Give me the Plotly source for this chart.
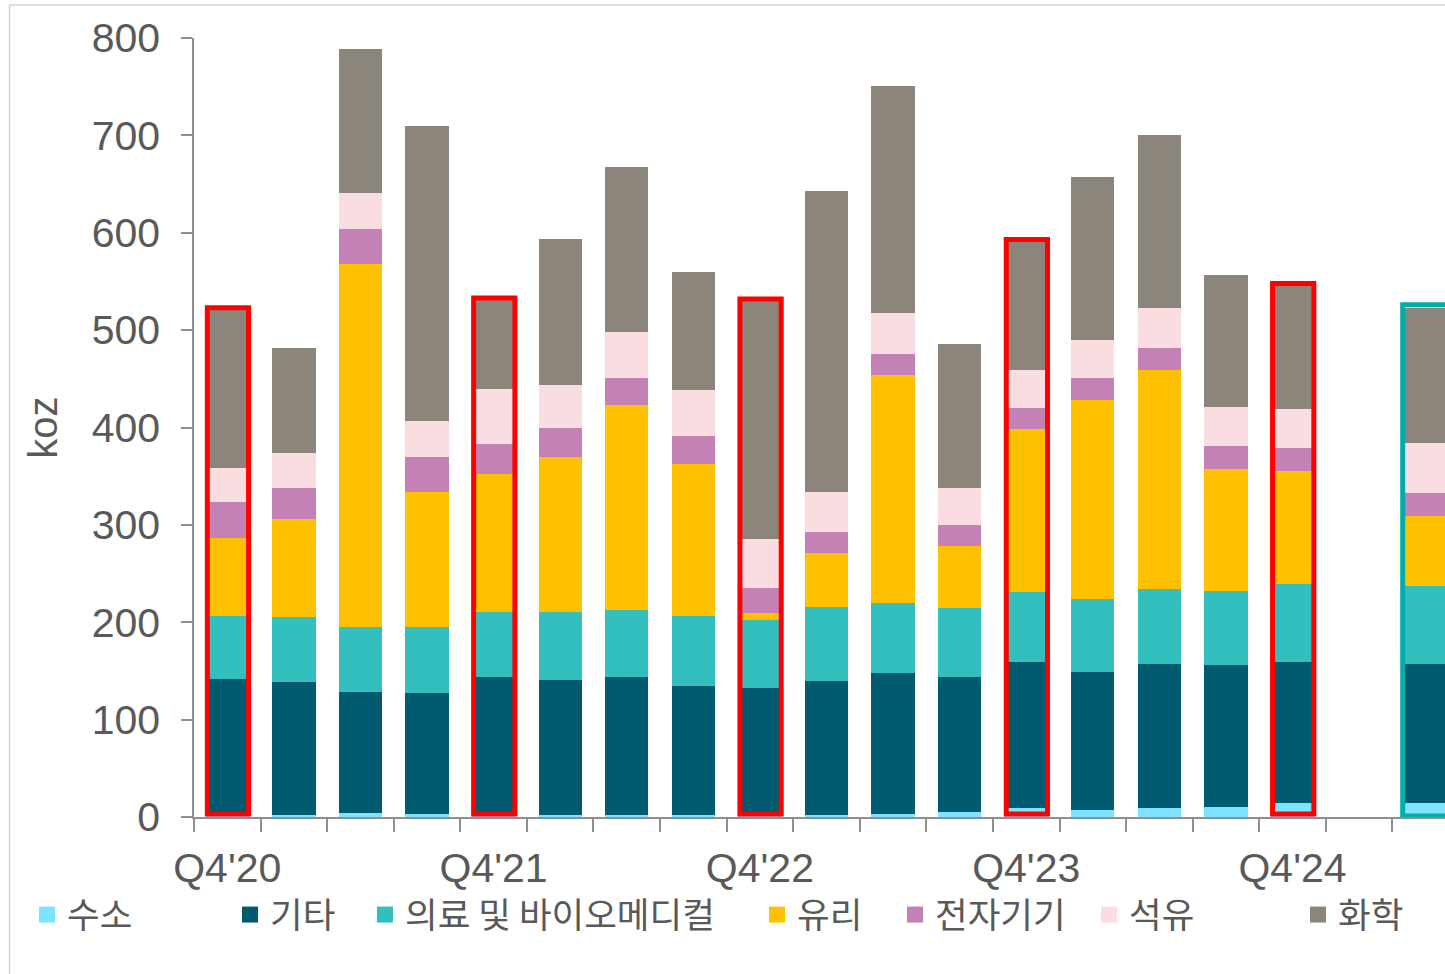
import plotly.graph_objects as go

# ---------------- data ----------------
quarters = ["Q4'20", "Q1'21", "Q2'21", "Q3'21", "Q4'21", "Q1'22", "Q2'22", "Q3'22",
            "Q4'22", "Q1'23", "Q2'23", "Q3'23", "Q4'23", "Q1'24", "Q2'24", "Q3'24", "Q4'24"]
# 17 quarterly bars, one empty slot, then one extra (unlabelled) highlighted bar
slot_index = list(range(17)) + [18]

tick_positions = [0, 4, 8, 12, 16]
tick_labels = ["Q4'20", "Q4'21", "Q4'22", "Q4'23", "Q4'24"]

hydrogen =   [5, 2, 4, 3, 4, 2, 2, 2, 2, 2, 3, 5, 9, 7, 9, 10, 14, 14]
other =      [137, 137, 124, 124, 140, 139, 142, 133, 130, 138, 145, 139, 150, 142, 148, 146, 145, 143]
medical =    [64, 66, 67, 68, 67, 70, 69, 71, 70, 76, 72, 71, 72, 75, 77, 76, 80, 80]
glass =      [81, 101, 373, 139, 141, 159, 210, 157, 8, 55, 234, 63, 167, 204, 225, 125, 116, 72]
electrical = [36, 32, 36, 36, 31, 29, 28, 28, 25, 22, 22, 22, 22, 23, 23, 24, 24, 24]
petroleum =  [35, 36, 37, 37, 57, 45, 47, 48, 51, 41, 42, 38, 39, 39, 41, 40, 40, 51]
chemical =   [164, 108, 148, 303, 92, 150, 170, 121, 245, 309, 233, 148, 133, 167, 177, 136, 128, 139]

series_names = ["수소", "기타", "의료 및 바이오메디컬", "유리", "전자기기", "석유", "화학"]
series_values = [hydrogen, other, medical, glass, electrical, petroleum, chemical]
series_colors = ["#7FE3FF", "#005A70", "#33BFBD", "#FFC000", "#C381B5", "#F9DDE0", "#8C857B"]

red_box_slots = [0, 4, 8, 12, 16]
teal_box_slot = 18

# ---------------- figure ----------------
GRAY_TXT = "#595959"
AXIS_GRAY = "#8f8f8f"
LATIN = "Liberation Sans, Arial, sans-serif"
KOREAN = "Noto Sans CJK KR, sans-serif"

fig = go.Figure()
for name, vals, col in zip(series_names, series_values, series_colors):
    fig.add_trace(go.Bar(x=slot_index, y=vals, name=name, marker=dict(color=col, line=dict(width=0)),
                         width=0.65, showlegend=False,
                         hovertext=quarters + ["", ""], hoverinfo="text+y+name"))

# legend entries (one small legend per entry so each sits where the original has it)
legend_left_px = [27, 230, 365, 757, 895, 1089, 1298]
PLOT_L, PLOT_W = 194, 1251
PLOT_T, PLOT_H = 38, 779
legend_center_y = (PLOT_T + PLOT_H - 915) / PLOT_H
for i, (name, col) in enumerate(zip(series_names, series_colors)):
    key = "legend" if i == 0 else f"legend{i+1}"
    fig.add_trace(go.Scatter(x=[None], y=[None], mode="markers", name=name,
                             marker=dict(symbol="square", size=17, color=col),
                             legend=key, showlegend=True, hoverinfo="skip"))
    fig.update_layout({key: dict(x=(legend_left_px[i] - PLOT_L) / PLOT_W, y=legend_center_y,
                                 xanchor="left", yanchor="middle", orientation="h",
                                 bgcolor="rgba(0,0,0,0)", borderwidth=0,
                                 font=dict(family=KOREAN, size=35.5, color=GRAY_TXT),
                                 itemsizing="trace", itemclick=False, itemdoubleclick=False)})

totals = [sum(v[k] for v in series_values) for k in range(len(slot_index))]
shapes = []
for s in red_box_slots:
    k = slot_index.index(s)
    shapes.append(dict(type="rect", xref="x", yref="y", x0=s - 0.30, x1=s + 0.32,
                       y0=3, y1=totals[k] + 1, line=dict(color="#FF0000", width=5),
                       fillcolor="rgba(0,0,0,0)", layer="above"))
k = slot_index.index(teal_box_slot)
shapes.append(dict(type="rect", xref="x", yref="y", x0=teal_box_slot - 0.345, x1=teal_box_slot + 0.35,
                   y0=1, y1=totals[k] + 3, line=dict(color="#00ADA8", width=5),
                   fillcolor="rgba(0,0,0,0)", layer="above"))
# faint outer frame of the original picture
fx = (9.5 - PLOT_L) / PLOT_W
fy = (PLOT_T + PLOT_H - 5) / PLOT_H
shapes.append(dict(type="line", xref="paper", yref="paper", x0=fx, x1=1.0, y0=fy, y1=fy,
                   line=dict(color="#d4d4d4", width=1.5)))
shapes.append(dict(type="line", xref="paper", yref="paper", x0=fx, x1=fx, y0=fy, y1=-0.3,
                   line=dict(color="#d4d4d4", width=1.5)))

fig.update_layout(
    barmode="stack",
    width=1445, height=974,
    margin=dict(l=PLOT_L, r=0, t=PLOT_T, b=974 - PLOT_T - PLOT_H, autoexpand=False),
    paper_bgcolor="white", plot_bgcolor="white",
    font=dict(family=LATIN, color=GRAY_TXT),
    shapes=shapes,
    xaxis=dict(range=[-0.5, 18.29], tickmode="array", tickvals=tick_positions, ticktext=tick_labels,
               ticks="", showgrid=False, zeroline=False, showline=True, linecolor=AXIS_GRAY, linewidth=1.5,
               tickfont=dict(family=LATIN, size=41, color=GRAY_TXT), ticklabelstandoff=14,
               minor=dict(ticks="outside", tickmode="linear", tick0=-0.5, dtick=1, ticklen=13,
                          tickwidth=1.5, tickcolor=AXIS_GRAY, showgrid=False)),
    yaxis=dict(range=[0, 800], tickmode="linear", tick0=0, dtick=100, ticks="outside", ticklen=11,
               tickwidth=1.5, tickcolor=AXIS_GRAY, showgrid=False, zeroline=False, showline=True,
               linecolor=AXIS_GRAY, linewidth=1.5, ticklabelstandoff=13,
               tickfont=dict(family=LATIN, size=41, color=GRAY_TXT),
               title=dict(text="koz", standoff=22, font=dict(family=LATIN, size=40, color=GRAY_TXT))),
)

# the page body normally has an 8px margin; remove it so the figure sits at the window origin
fig.write_html("out.html", config={"displayModeBar": False},
               post_script="document.body.style.margin='0px';")
